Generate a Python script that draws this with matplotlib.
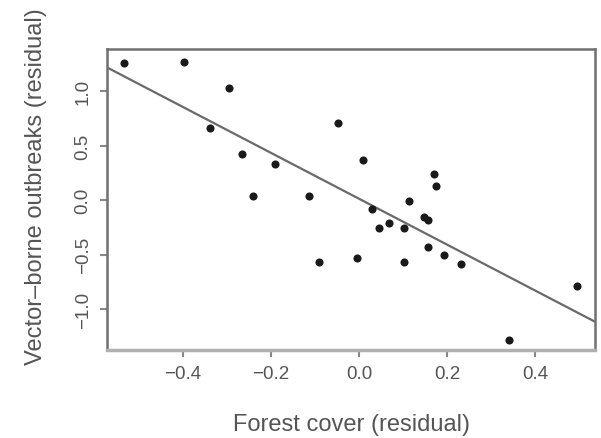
import numpy as np
import matplotlib
matplotlib.use("Agg")
import matplotlib.pyplot as plt

plt.rcParams['font.family'] = ['Liberation Sans', 'DejaVu Sans']

# residuals
forest = [-0.534, -0.399, -0.295, -0.339, -0.267, -0.191, -0.242, -0.113, -0.048,
          0.008, 0.170, 0.175, 0.114, 0.030, 0.067, 0.045, 0.103, 0.148, 0.157,
          0.156, 0.194, 0.232, -0.091, -0.004, 0.103, 0.495, 0.341]
outbreaks = [1.257, 1.269, 1.028, 0.658, 0.422, 0.330, 0.039, 0.039, 0.706,
             0.370, 0.239, 0.131, -0.012, -0.085, -0.214, -0.260, -0.257, -0.153, -0.183,
             -0.434, -0.505, -0.587, -0.572, -0.535, -0.566, -0.786, -1.282]

# fitted line
intercept = 0.011
slope = -2.104

xticks = [-0.4, -0.2, 0.0, 0.2, 0.4]
yticks = [-1.0, -0.5, 0.0, 0.5, 1.0]

fig = plt.figure(figsize=(6.01, 4.39), dpi=100)
ax = fig.add_axes([0.178, 0.2005, 0.812, 0.6855])

ax.set_xlim(-0.573, 0.536)
ax.set_ylim(-1.376, 1.385)

ax.scatter(forest, outbreaks, s=34, color='#1a1a1a', zorder=3, linewidths=0)
ax.axline((0, intercept), slope=slope, color='#6a6a6a', lw=1.6, zorder=2)

ax.set_xticks(xticks)
ax.set_xticklabels(['\u22120.4', '\u22120.2', '0.0', '0.2', '0.4'])
ax.set_yticks(yticks)
ax.set_yticklabels(['\u22121.0', '\u22120.5', '0.0', '0.5', '1.0'], rotation=90, va='center')

ax.tick_params(axis='both', direction='out', length=5, width=1.5, colors='#888888',
               labelcolor='#555555', labelsize=13.5, pad=6)

for side in ['left', 'top', 'right']:
    ax.spines[side].set_color('#707070')
    ax.spines[side].set_linewidth(1.8)
ax.spines['bottom'].set_color('#b0b0b0')
ax.spines['bottom'].set_linewidth(2.5)

ax.set_xlabel('Forest cover (residual)', fontsize=17, color='#555555')
ax.set_ylabel('Vector\u2013borne outbreaks (residual)', fontsize=17, color='#555555')
ax.xaxis.set_label_coords(0.502, -0.209)
ax.yaxis.set_label_coords(-0.123, 0.545)

fig.savefig('out.png', dpi=100)
